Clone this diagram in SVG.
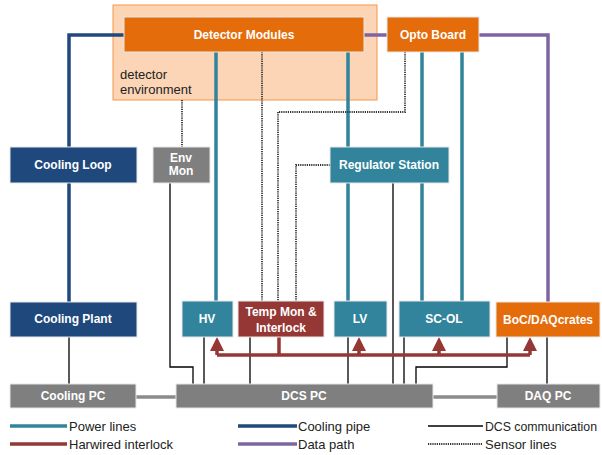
<svg xmlns="http://www.w3.org/2000/svg" width="602" height="455" viewBox="0 0 602 455">
<style>
text{font-family:"Liberation Sans",Arial,sans-serif}
.lbl{font-size:12px;font-weight:bold;fill:#fff;text-anchor:middle}
.leg{font-size:13px;fill:#222}
.b{stroke:#e8e8e8;stroke-width:1}
.orange{fill:#e46c0a}
.teal{fill:#31849b}
.blue{fill:#1f497d}
.gray{fill:#7f7f7f}
.red{fill:#953735}
.pw{stroke:#31849b;stroke-width:3.5;fill:none}
.cp{stroke:#1f497d;stroke-width:3.5;fill:none}
.dp{stroke:#8064a2;stroke-width:3.5;fill:none}
.hi{stroke:#953735;stroke-width:3.5;fill:none}
.dcs{stroke:#000;stroke-width:1.3;fill:none}
.sen{stroke:#333;stroke-width:1.8;stroke-dasharray:1.2 1;fill:none}
.lan{stroke:#8c8c8c;stroke-width:3.5;fill:none}
</style>
<defs>
<marker id="ah" markerWidth="4" markerHeight="4" refX="2" refY="2" orient="auto" markerUnits="strokeWidth">
<path d="M0,0 L4,2 L0,4 z" fill="#953735"/>
</marker>
</defs>
<g id="env">
<rect x="113" y="5" width="264" height="95" fill="#fbd5b5" stroke="#f79646" stroke-width="1"/>
<text x="120" y="79" style="font-size:13px;fill:#222">detector</text>
<text x="120" y="94" style="font-size:13px;fill:#222">environment</text>
</g>
<g id="connectors">
<path class="cp" d="M124,35 H69 V147 M69,183 V302"/>
<path class="dp" d="M364,35 H387 M479,35 H548 V302"/>
<path class="pw" d="M216,52 V301 M348,52 V301 M422,52 V147 M422,183 V301 M462,52 V301"/>
<path class="sen" d="M182,100 V147 M262,52 V301 M405,52 V112 H278 V301 M330,165 H296 V301"/>
<path class="dcs" d="M69,337 V384 M170,183 V367 H193 V384 M204,337 V384 M250,337 V384 M348,337 V384 M393,183 V384 M404,337 V384 M416,384 V367 H507 V337 M547,337 V384"/>
<path class="lan" d="M136,397 H176 M433,397 H497"/>
<path class="hi" d="M279,337 V355 M217,355 H530"/>
<path class="hi" marker-end="url(#ah)" d="M217,355 V344"/>
<path class="hi" marker-end="url(#ah)" d="M359,355 V344"/>
<path class="hi" marker-end="url(#ah)" d="M439,355 V344"/>
<path class="hi" marker-end="url(#ah)" d="M530,355 V344"/>
</g>
<g id="detector-modules"><rect class="orange b" x="124" y="17" width="240" height="35"/><text class="lbl" x="244" y="39">Detector Modules</text></g>
<g id="opto-board"><rect class="orange b" x="387" y="17" width="92" height="35"/><text class="lbl" x="433" y="39">Opto Board</text></g>
<g id="cooling-loop"><rect class="blue b" x="10" y="147" width="127" height="36"/><text class="lbl" x="73" y="169">Cooling Loop</text></g>
<g id="env-mon"><rect class="gray b" x="153" y="147" width="57" height="36"/><text class="lbl" x="181" y="162">Env</text><text class="lbl" x="181" y="175">Mon</text></g>
<g id="regulator-station"><rect class="teal b" x="330" y="147" width="119" height="36"/><text class="lbl" x="389" y="169">Regulator Station</text></g>
<g id="cooling-plant"><rect class="blue b" x="10" y="302" width="127" height="35"/><text class="lbl" x="73" y="323">Cooling Plant</text></g>
<g id="hv"><rect class="teal b" x="182" y="301" width="51" height="36"/><text class="lbl" x="207" y="323">HV</text></g>
<g id="temp-mon"><rect class="red b" x="238" y="301" width="86" height="36"/><text class="lbl" x="281" y="316">Temp Mon &amp;</text><text class="lbl" x="281" y="332">Interlock</text></g>
<g id="lv"><rect class="teal b" x="334" y="301" width="53" height="36"/><text class="lbl" x="360" y="323">LV</text></g>
<g id="sc-ol"><rect class="teal b" x="399" y="301" width="91" height="36"/><text class="lbl" x="444" y="323">SC-OL</text></g>
<g id="boc"><rect class="orange b" x="496" y="302" width="104" height="35"/><text class="lbl" x="548" y="324">BoC/DAQcrates</text></g>
<g id="cooling-pc"><rect class="gray b" x="10" y="384" width="126" height="24"/><text class="lbl" x="73" y="400">Cooling PC</text></g>
<g id="dcs-pc"><rect class="gray b" x="176" y="384" width="257" height="24"/><text class="lbl" x="304" y="400">DCS PC</text></g>
<g id="daq-pc"><rect class="gray b" x="497" y="384" width="103" height="24"/><text class="lbl" x="548" y="400">DAQ PC</text></g>
<g id="legend">
<path class="pw" d="M10,426 H67"/><text class="leg" x="69" y="431">Power lines</text>
<path class="hi" d="M10,444 H67"/><text class="leg" x="69" y="449">Harwired interlock</text>
<path class="cp" d="M238,426 H297"/><text class="leg" x="298" y="431">Cooling pipe</text>
<path class="dp" d="M238,444 H297"/><text class="leg" x="298" y="449">Data path</text>
<path class="dcs" d="M428,426 H483"/><text class="leg" x="485" y="431" textLength="112" lengthAdjust="spacingAndGlyphs">DCS communication</text>
<path class="sen" d="M428,444 H483"/><text class="leg" x="485" y="449">Sensor lines</text>
</g>
</svg>
